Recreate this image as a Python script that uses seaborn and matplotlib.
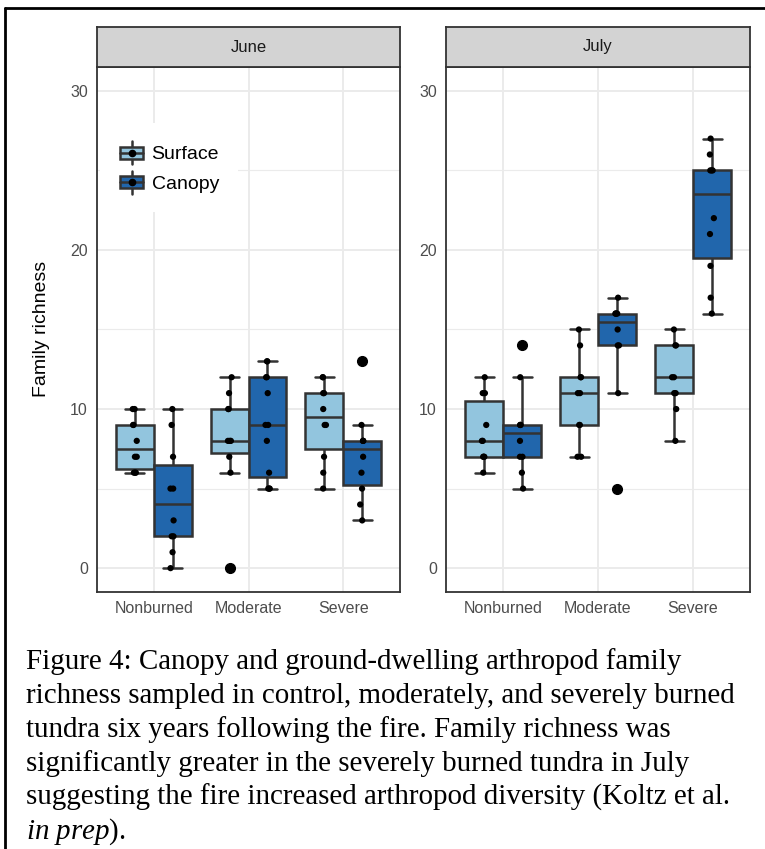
import numpy as np
import pandas as pd
import matplotlib
matplotlib.use("Agg")
import matplotlib.pyplot as plt
import seaborn as sns
from matplotlib.legend_handler import HandlerBase
from matplotlib.patches import Rectangle, Patch
from matplotlib.lines import Line2D

# ---------------- data ----------------
months = ["June", "July"]
burn_levels = ["Nonburned", "Moderate", "Severe"]
habitats = ["Surface", "Canopy"]
habitat_colors = ["#92C5DE", "#2166AC"]

june_surface_nonburned = [6, 6, 6, 7, 7, 8, 9, 9, 10, 10]
june_canopy_nonburned = [0, 1, 2, 2, 3, 5, 5, 7, 9, 10]
june_surface_moderate = [0, 6, 7, 8, 8, 8, 10, 10, 11, 12]
june_canopy_moderate = [5, 5, 5, 6, 8, 9, 9, 11, 12, 12, 13, 13]
june_surface_severe = [5, 6, 7, 9, 9, 10, 11, 11, 12, 12]
june_canopy_severe = [3, 4, 5, 6, 7, 8, 8, 8, 9, 13]
july_surface_nonburned = [6, 7, 7, 7, 8, 8, 9, 11, 11, 12]
july_canopy_nonburned = [5, 6, 7, 7, 8, 9, 9, 9, 12, 14]
july_surface_moderate = [7, 7, 9, 9, 11, 11, 12, 12, 14, 15]
july_canopy_moderate = [5, 11, 14, 14, 15, 16, 16, 16, 16, 17]
july_surface_severe = [8, 10, 11, 11, 12, 12, 14, 14, 15]
july_canopy_severe = [16, 17, 19, 21, 22, 25, 25, 25, 26, 27]

y_ticks = [0, 10, 20, 30]
y_label = "Family richness"

caption_lines = [
    "Figure 4: Canopy and ground-dwelling arthropod family",
    "richness sampled in control, moderately, and severely burned",
    "tundra six years following the fire. Family richness was",
    "significantly greater in the severely burned tundra in July",
    "suggesting the fire increased arthropod diversity (Koltz et al.",
    r"$\mathit{in\ prep}$).",
]

groups = {
    ("June", "Nonburned", "Surface"): june_surface_nonburned,
    ("June", "Nonburned", "Canopy"): june_canopy_nonburned,
    ("June", "Moderate", "Surface"): june_surface_moderate,
    ("June", "Moderate", "Canopy"): june_canopy_moderate,
    ("June", "Severe", "Surface"): june_surface_severe,
    ("June", "Severe", "Canopy"): june_canopy_severe,
    ("July", "Nonburned", "Surface"): july_surface_nonburned,
    ("July", "Nonburned", "Canopy"): july_canopy_nonburned,
    ("July", "Moderate", "Surface"): july_surface_moderate,
    ("July", "Moderate", "Canopy"): july_canopy_moderate,
    ("July", "Severe", "Surface"): july_surface_severe,
    ("July", "Severe", "Canopy"): july_canopy_severe,
}
rows = []
for (m, b, h), vals in groups.items():
    for v in vals:
        rows.append({"month": m, "burn": b, "habitat": h, "richness": v})
df = pd.DataFrame(rows)

# ---------------- style ----------------
sns.set_style("white")
plt.rcParams["font.family"] = ["Liberation Sans", "DejaVu Sans"]
plt.rcParams["mathtext.fontset"] = "custom"
plt.rcParams["mathtext.rm"] = "Liberation Serif"
plt.rcParams["mathtext.it"] = "Liberation Serif:italic"

W, H = 765, 849
fig = plt.figure(figsize=(W / 100, H / 100), dpi=100)
fig.patch.set_facecolor("white")

DARK = "#333333"
palette = dict(zip(habitats, habitat_colors))
black_pal = {h: "black" for h in habitats}
np.random.seed(3)

panel_x = [(97, 400), (446, 750)]
panel_top, panel_bot = 67, 592
strip_top = 27

axes = []
for i, m in enumerate(months):
    x0, x1 = panel_x[i]
    ax = fig.add_axes([x0 / W, 1 - panel_bot / H, (x1 - x0) / W, (panel_bot - panel_top) / H])
    sub = df[df["month"] == m]
    sns.boxplot(data=sub, x="burn", y="richness", hue="habitat", order=burn_levels,
                hue_order=habitats, palette=palette, saturation=1, width=0.8, gap=0,
                linewidth=1.8, linecolor=DARK, fliersize=7,
                flierprops=dict(marker="o", markerfacecolor="black", markeredgecolor="black"),
                legend=False, ax=ax)
    sns.stripplot(data=sub, x="burn", y="richness", hue="habitat", order=burn_levels,
                  hue_order=habitats, palette=black_pal, dodge=True, jitter=0.05,
                  size=4.5, linewidth=0, legend=False, ax=ax, zorder=5)
    ax.set_xlim(-0.6, 2.6)
    ax.set_ylim(-1.5, 31.5)
    ax.set_yticks(y_ticks)
    ax.set_yticks([5, 15, 25], minor=True)
    ax.set_xlabel("")
    ax.set_ylabel("")
    ax.grid(True, which="major", color="#EBEBEB", lw=1.4)
    ax.grid(True, which="minor", axis="y", color="#EBEBEB", lw=0.8)
    ax.set_axisbelow(True)
    ax.tick_params(axis="both", which="major", direction="out", length=3.5, width=1.2,
                   color=DARK, labelcolor="#4D4D4D", labelsize=11.5, pad=3)
    ax.tick_params(axis="y", which="minor", length=0)
    for s in ax.spines.values():
        s.set_visible(True)
        s.set_color(DARK)
        s.set_linewidth(1.3)
    axes.append(ax)

    sax = fig.add_axes([x0 / W, 1 - panel_top / H, (x1 - x0) / W, (panel_top - strip_top) / H])
    sax.set_facecolor("#D3D3D3")
    sax.set_xticks([])
    sax.set_yticks([])
    for s in sax.spines.values():
        s.set_color(DARK)
        s.set_linewidth(1.3)
    sax.text(0.5, 0.5, m, ha="center", va="center", fontsize=12, color="#1A1A1A",
             transform=sax.transAxes)

fig.text(42 / W, 1 - 329 / H, y_label, rotation=90, ha="center", va="center",
         fontsize=14, color="black")


class BoxKey(HandlerBase):
    def create_artists(self, legend, orig_handle, xdescent, ydescent, width, height,
                       fontsize, trans):
        x0, y0 = -xdescent, -ydescent
        cx = x0 + width / 2
        fc = orig_handle.get_facecolor()
        whisk = Line2D([cx, cx], [y0 - 0.05 * height, y0 + 1.05 * height], color=DARK,
                       lw=1.8, transform=trans)
        box = Rectangle((x0 + 0.04 * width, y0 + 0.2 * height), 0.92 * width,
                        0.6 * height, facecolor=fc, edgecolor=DARK, lw=1.8,
                        transform=trans)
        med = Line2D([x0 + 0.04 * width, x0 + 0.96 * width], [y0 + height / 2] * 2,
                     color=DARK, lw=1.8, transform=trans)
        dot = Line2D([cx], [y0 + height / 2], marker="o", ms=4.5, color="black",
                     lw=0, transform=trans)
        return [whisk, box, med, dot]


handles = [Patch(facecolor=c) for c in habitat_colors]
leg = axes[0].legend(handles, habitats, handler_map={Patch: BoxKey()},
                     loc="upper left", bbox_to_anchor=(100 / W, 1 - 123 / H),
                     bbox_transform=fig.transFigure, borderaxespad=0,
                     frameon=True, facecolor="white", edgecolor="none", framealpha=1,
                     fancybox=False, fontsize=14, handlelength=1.25, handleheight=1.25,
                     handletextpad=0.4, labelspacing=0.45, borderpad=1.0)
for t in leg.get_texts():
    t.set_color("black")

# page frame lines
fig.add_artist(Line2D([5 / W, 5 / W], [0, 1 - 8 / H], transform=fig.transFigure,
                      color="black", lw=2))
fig.add_artist(Line2D([5 / W, 1], [1 - 8 / H, 1 - 8 / H], transform=fig.transFigure,
                      color="black", lw=2))

baselines = [669, 703, 737, 771, 805, 839]
for line, yb in zip(caption_lines, baselines):
    fig.text(26 / W, 1 - yb / H, line, ha="left", va="baseline", fontsize=20.9,
             family="Liberation Serif", color="black")

fig.savefig("out.png", dpi=100)
